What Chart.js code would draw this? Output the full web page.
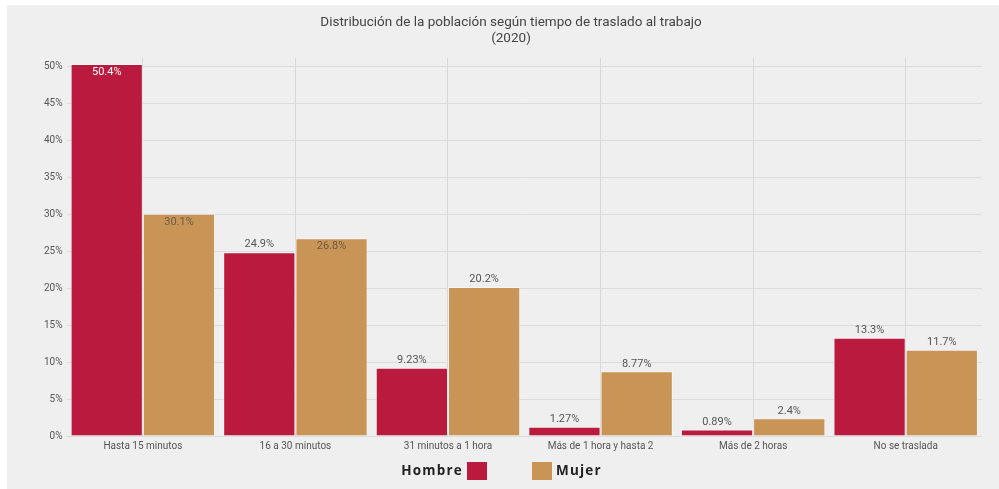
<!DOCTYPE html>
<html>
<head>
<meta charset="utf-8">
<script src="https://cdn.jsdelivr.net/npm/chart.js@4.4.1/dist/chart.umd.min.js"></script>
<style>
  html, body { margin: 0; padding: 0; background: #ffffff; }
  #wrap { position: absolute; left: 7px; top: 5px; width: 992px; height: 484px; background: #efefef; }
  canvas { display: block; }
</style>
</head>
<body>
<div id="wrap"><canvas id="c" width="992" height="484"></canvas></div>
<script>
const categories = ["Hasta 15 minutos", "16 a 30 minutos", "31 minutos a 1 hora", "Más de 1 hora y hasta 2", "Más de 2 horas", "No se traslada"];
const hombre = [50.4, 24.9, 9.23, 1.27, 0.89, 13.3];
const mujer = [30.1, 26.8, 20.2, 8.77, 2.4, 11.7];
const seriesNames = ["Hombre", "Mujer"];
const yTicks = [0, 5, 10, 15, 20, 25, 30, 35, 40, 45, 50];
const titleLines = ["Distribución de la población según tiempo de traslado al trabajo", "(2020)"];

const RED = "#ba1a3d";
const ORANGE = "#c99556";

const labelPlugin = {
  id: "barLabels",
  afterDatasetsDraw(chart) {
    const ctx = chart.ctx;
    ctx.save();
    ctx.font = '11px Roboto';
    ctx.textAlign = 'center';
    chart.data.datasets.forEach((ds, di) => {
      const meta = chart.getDatasetMeta(di);
      meta.data.forEach((bar, i) => {
        const v = ds.data[i];
        const txt = v + '%';
        if (v > 25) {
          ctx.fillStyle = di === 0 ? '#ffffff' : '#6e5c42';
          ctx.textBaseline = 'top';
          ctx.fillText(txt, bar.x, bar.y + 3);
        } else {
          ctx.fillStyle = '#555555';
          ctx.textBaseline = 'bottom';
          ctx.fillText(txt, bar.x, bar.y - 2);
        }
      });
    });
    ctx.restore();
  }
};

const legendPlugin = {
  id: "customLegend",
  afterDraw(chart) {
    const ctx = chart.ctx;
    ctx.save();
    const cx = chart.width / 2 + 6;
    const y = 466;
    ctx.font = 'bold 13.5px "Open Sans"';
    ctx.letterSpacing = '1.2px';
    ctx.textBaseline = 'middle';
    const ds = chart.data.datasets;
    const boxW = 20, boxH = 18;
    const rBoxRight = cx - 22;
    ctx.fillStyle = ds[0].backgroundColor;
    ctx.fillRect(rBoxRight - boxW, y - boxH / 2, boxW, boxH);
    ctx.fillStyle = '#222222';
    ctx.textAlign = 'right';
    ctx.fillText(ds[0].label, rBoxRight - boxW - 4, y);
    const oBoxLeft = cx + 23;
    ctx.fillStyle = ds[1].backgroundColor;
    ctx.fillRect(oBoxLeft, y - boxH / 2, boxW, boxH);
    ctx.fillStyle = '#222222';
    ctx.textAlign = 'left';
    ctx.fillText(ds[1].label, oBoxLeft + boxW + 4, y);
    ctx.restore();
  }
};

new Chart(document.getElementById('c'), {
  type: 'bar',
  data: {
    labels: categories,
    datasets: [
      { label: seriesNames[0], data: hombre, backgroundColor: RED, borderColor: 'rgba(255,255,255,0.45)', borderWidth: 1, categoryPercentage: 0.947, barPercentage: 1 },
      { label: seriesNames[1], data: mujer, backgroundColor: ORANGE, borderColor: 'rgba(255,255,255,0.45)', borderWidth: 1, categoryPercentage: 0.947, barPercentage: 1 }
    ]
  },
  options: {
    responsive: false,
    animation: false,
    layout: { padding: { left: 33, right: 17, top: 0, bottom: 33 } },
    plugins: {
      legend: { display: false },
      tooltip: { enabled: false },
      title: {
        display: true,
        text: titleLines,
        color: '#444444',
        font: { family: 'Roboto', size: 13.5, weight: 'normal', lineHeight: 1.15 },
        padding: { top: 10, bottom: 12 }
      }
    },
    scales: {
      x: {
        grid: { offset: false, color: '#d9d9d9', drawTicks: false },
        border: { display: false },
        ticks: { color: '#555555', font: { family: 'Roboto', size: 10 }, padding: 4 }
      },
      y: {
        min: 0,
        max: 51.2,
        afterBuildTicks(scale) {
          scale.ticks = yTicks.map(v => ({ value: v }));
        },
        ticks: { color: '#555555', font: { family: 'Roboto', size: 10 }, padding: 4, callback: v => v + '%' },
        grid: { color: '#dcdcdc', drawTicks: false },
        border: { display: false }
      }
    }
  },
  plugins: [labelPlugin, legendPlugin]
});
</script>
</body>
</html>
